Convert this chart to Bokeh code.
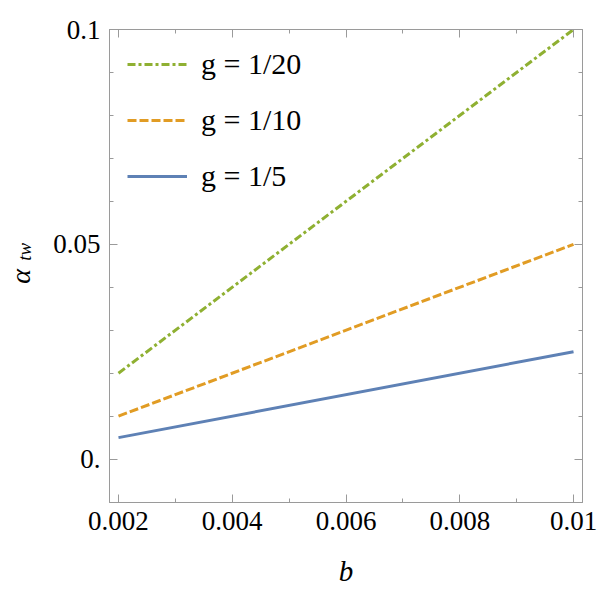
from bokeh.embed import file_html
from bokeh.resources import INLINE
from bokeh.plotting import figure
from bokeh.models import (
    CustomJSTickFormatter, CustomLabelingPolicy, FixedTicker, Legend, LegendItem,
    LinearAxis, Range1d,
)

# Coupling alpha_tw against b for three values of g
b_values = [0.002, 0.01]
alpha_g20 = [0.02, 0.1]
alpha_g10 = [0.01, 0.05]
alpha_g5 = [0.005, 0.025]
series_labels = ["g = 1/20", "g = 1/10", "g = 1/5"]

x_ticks = [0.002, 0.004, 0.006, 0.008, 0.01]
x_tick_labels = ["0.002", "0.004", "0.006", "0.008", "0.01"]
x_minor = [0.003, 0.005, 0.007, 0.009]
y_ticks = [0.0, 0.05, 0.1]
y_tick_labels = ["0.", "0.05", "0.1"]
y_minor = [-0.01, 0.01, 0.02, 0.03, 0.04, 0.06, 0.07, 0.08, 0.09]

GREEN = "#8FB032"
ORANGE = "#E19C24"
BLUE = "#5E81B5"
FRAME = "#9a9a9a"
FONT = "Liberation Serif"
NBSP = "\u00a0"

p = figure(
    width=600, height=598, output_backend="svg", toolbar_location=None,
    x_range=Range1d(0.001842, 0.010158), y_range=Range1d(-0.0101, 0.1),
    min_border_left=109, min_border_right=18, min_border_top=29, min_border_bottom=96,
    x_axis_location=None, y_axis_location=None,
)
p.grid.visible = False
p.outline_line_color = FRAME
p.background_fill_color = "white"
p.border_fill_color = "white"

fmt_code = """
let best = 0;
for (let i = 0; i < tick_vals.length; i++) {
    if (Math.abs(tick_vals[i] - tick) < Math.abs(tick_vals[best] - tick)) best = i;
}
return tick_text[best];
"""

# mirrored axes carry ticks only
no_labels = CustomLabelingPolicy(code="""
for (const i of indices) { indices.unset(i) }
return indices
""")


def make_axis(ticks, minor, labels, show_labels):
    ax = LinearAxis(ticker=FixedTicker(ticks=ticks, minor_ticks=minor))
    ax.axis_line_color = FRAME
    ax.major_tick_line_color = FRAME
    ax.minor_tick_line_color = FRAME
    ax.major_tick_in = 8
    ax.major_tick_out = 0
    ax.minor_tick_in = 4
    ax.minor_tick_out = 0
    ax.formatter = CustomJSTickFormatter(
        args=dict(tick_vals=ticks, tick_text=labels), code=fmt_code)
    ax.major_label_text_font = FONT
    ax.major_label_text_font_size = "27px"
    ax.major_label_text_color = "black"
    if not show_labels:
        ax.major_label_policy = no_labels
        ax.major_label_text_font_size = "0px"
        ax.major_label_standoff = 0
    return ax


xb = make_axis(x_ticks, x_minor, x_tick_labels, True)
xb.major_label_standoff = 9
xb.axis_label = "b"
xb.axis_label_text_font = FONT
xb.axis_label_text_font_style = "italic"
xb.axis_label_text_font_size = "29px"
xb.axis_label_text_color = "black"
xb.axis_label_standoff = 22
p.add_layout(xb, "below")

# left axis: tick labels plus the upright "tw" subscript of the y title
yl = make_axis(y_ticks, y_minor, y_tick_labels, True)
yl.major_label_standoff = 9
yl.axis_label = NBSP * 6 + "tw"
yl.axis_label_text_font = FONT
yl.axis_label_text_font_size = "19px"
yl.axis_label_text_color = "black"
yl.axis_label_standoff = 15
p.add_layout(yl, "left")

# bare outer axis that only carries the italic alpha of the y title
ya = LinearAxis(ticker=FixedTicker(ticks=[]))
ya.axis_line_color = None
ya.major_tick_line_color = None
ya.minor_tick_line_color = None
ya.major_tick_out = 0
ya.minor_tick_out = 0
ya.major_label_text_font_size = "0px"
ya.major_label_standoff = 0
ya.axis_label = "α" + NBSP * 3
ya.axis_label_text_font = FONT
ya.axis_label_text_font_style = "italic"
ya.axis_label_text_font_size = "28px"
ya.axis_label_text_color = "black"
ya.axis_label_standoff = -24
p.add_layout(ya, "left")

p.add_layout(make_axis(x_ticks, x_minor, x_tick_labels, False), "above")
p.add_layout(make_axis(y_ticks, y_minor, y_tick_labels, False), "right")

r20 = p.line(b_values, alpha_g20, line_color=GREEN, line_width=3, line_dash="8 3 3 3")
r10 = p.line(b_values, alpha_g10, line_color=ORANGE, line_width=3, line_dash="9 3")
r5 = p.line(b_values, alpha_g5, line_color=BLUE, line_width=3)

legend = Legend(
    items=[LegendItem(label=series_labels[0], renderers=[r20]),
           LegendItem(label=series_labels[1], renderers=[r10]),
           LegendItem(label=series_labels[2], renderers=[r5])],
    location="top_left", margin=18, padding=3, spacing=22,
    glyph_width=60, glyph_height=24, label_height=24, label_standoff=14,
    label_text_font=FONT, label_text_font_size="30px", label_text_color="black",
    border_line_color=None, background_fill_alpha=0,
)
p.add_layout(legend)

open("out.html", "w").write(file_html(p, INLINE))
